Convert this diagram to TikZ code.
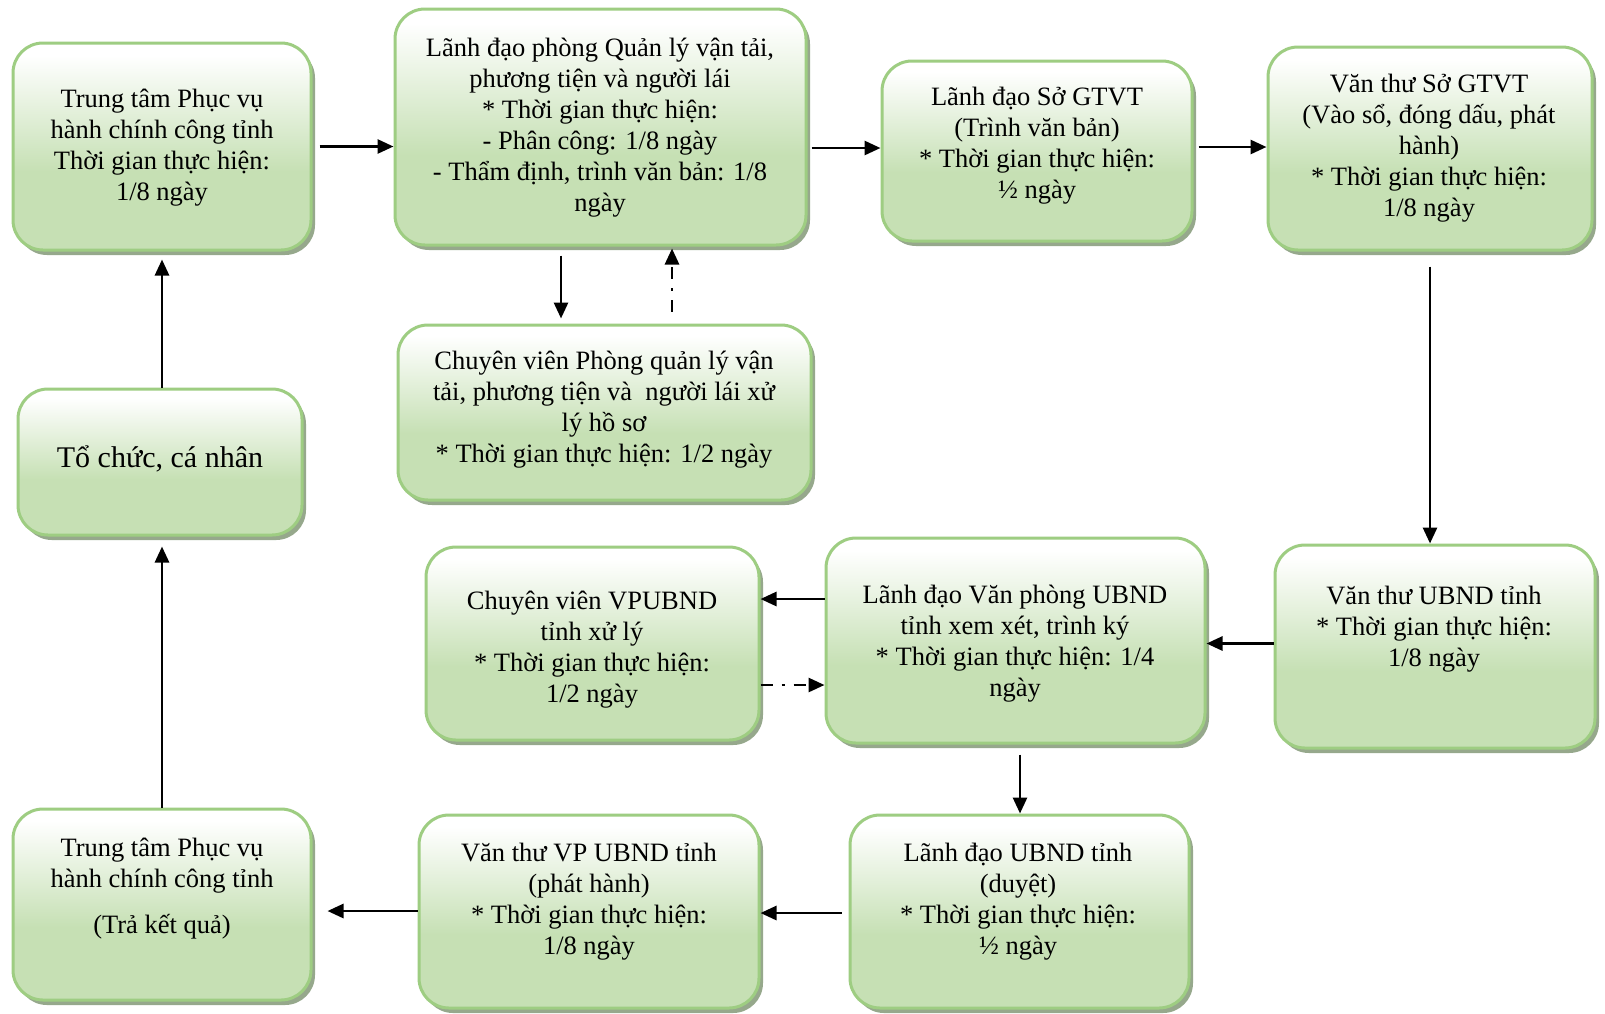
\documentclass[tikz,border=0pt]{standalone}
\usepackage{fontspec}
\setmainfont{Liberation Serif}
\usetikzlibrary{arrows.meta,shadows}
\definecolor{bordg}{RGB}{158,205,130}
\definecolor{fillg}{RGB}{198,224,180}
\definecolor{shadg}{RGB}{150,168,140}
\pgfdeclareverticalshading{boxshade}{100bp}{color(0bp)=(fillg); color(25bp)=(fillg); color(44bp)=(fillg); color(72bp)=(white); color(100bp)=(white)}
\begin{document}
\begin{tikzpicture}[x=1pt,y=-1pt,
  box/.style={draw=bordg, line width=3pt, rounded corners=30pt, shade, shading=boxshade, inner sep=0pt,
    drop shadow={shadow xshift=4pt, shadow yshift=-5pt, fill=shadg, opacity=1}},
  txt/.style={align=center, font=\fontsize{26.5pt}{31pt}\selectfont, inner sep=0pt},
  arr/.style={line width=2.8pt, -{Triangle[length=16pt,width=14pt]}},
  dd/.style={dash pattern=on 12pt off 9pt on 3pt off 9pt}]
\useasboundingbox[fill=white] (0,0) rectangle (1605,1013);

% boxes
\node[box, minimum width=298pt, minimum height=207pt] (t1) at (162,146.5) {};
\node[box, minimum width=411pt, minimum height=236pt] (t2) at (600.5,127) {};
\node[box, minimum width=310pt, minimum height=180pt] (t3) at (1037,151) {};
\node[box, minimum width=324pt, minimum height=203pt] (t4) at (1430,148.5) {};
\node[box, minimum width=413pt, minimum height=175pt] (t5) at (604.5,412.5) {};
\node[box, minimum width=284pt, minimum height=146pt] (t6) at (160,462) {};
\node[box, minimum width=333pt, minimum height=193pt] (t7) at (592.5,643.5) {};
\node[box, minimum width=379pt, minimum height=205pt] (t8) at (1015.5,640.5) {};
\node[box, minimum width=320pt, minimum height=203pt] (t9) at (1435,646.5) {};
\node[box, minimum width=298pt, minimum height=191pt] (t10) at (162,904.5) {};
\node[box, minimum width=340pt, minimum height=193pt] (t11) at (589,911.5) {};
\node[box, minimum width=339pt, minimum height=193pt] (t12) at (1019.5,911.5) {};

% texts
\node[txt] (x1) at (162,147.5) {Trung tâm Phục vụ\\hành chính công tỉnh\\Thời gian thực hiện:\\1/8 ngày};
\node[txt] (x2) at (600,127.5) {Lãnh đạo phòng Quản lý vận tải,\\phương tiện và người lái\\* Thời gian thực hiện:\\- Phân công: 1/8 ngày\\- Thẩm định, trình văn bản: 1/8\\ngày};
\node[txt] (x3) at (1037,145.5) {Lãnh đạo Sở GTVT\\(Trình văn bản)\\* Thời gian thực hiện:\\½ ngày};
\node[txt] (x4) at (1429,148.5) {Văn thư Sở GTVT\\(Vào sổ, đóng dấu, phát\\hành)\\* Thời gian thực hiện:\\1/8 ngày};
\node[txt] (x5) at (604,409.5) {Chuyên viên Phòng quản lý vận\\tải, phương tiện và~ người lái xử\\lý hồ sơ\\* Thời gian thực hiện: 1/2 ngày};
\node[txt, font=\fontsize{30pt}{34pt}\selectfont] (x6) at (160,459) {Tổ chức, cá nhân};
\node[txt] (x7) at (592,649.5) {Chuyên viên VPUBND\\tỉnh xử lý\\* Thời gian thực hiện:\\1/2 ngày};
\node[txt] (x8) at (1015,643.5) {Lãnh đạo Văn phòng UBND\\tỉnh xem xét, trình ký\\* Thời gian thực hiện: 1/4\\ngày};
\node[txt] (x9) at (1434,629.5) {Văn thư UBND tỉnh\\* Thời gian thực hiện:\\1/8 ngày};
\node[txt] (x10) at (162,888.5) {Trung tâm Phục vụ\\hành chính công tỉnh\\[15pt](Trả kết quả)};
\node[txt] (x11) at (589,901.5) {Văn thư VP UBND tỉnh\\(phát hành)\\* Thời gian thực hiện:\\1/8 ngày};
\node[txt] (x12) at (1018,901.5) {Lãnh đạo UBND tỉnh\\(duyệt)\\* Thời gian thực hiện:\\½ ngày};

% connectors
\coordinate (p1) at ([xshift=7pt]t1.east);
\draw[arr] (p1) -- (p1 -| t2.west);
\coordinate (p2) at ([xshift=4pt,yshift=3pt]t2.east |- t3.west);
\draw[arr] (p2) -- (p2 -| t3.west);
\coordinate (p3) at ([xshift=5pt,yshift=4pt]t3.east);
\draw[arr] (p3) -- (p3 -| t4.west);
\coordinate (p4) at ([yshift=-15pt]t4.south);
\draw[arr] (p4) -- (p4 |- t9.north);
\coordinate (p5) at ([yshift=3pt]t9.west);
\draw[arr] (p5) -- (p5 -| t8.east);
\coordinate (p6) at ([yshift=41.5pt]t8.west);
\draw[arr] (p6) -- (p6 -| t7.east);
\coordinate (p7) at ([yshift=-41.5pt]t7.east);
\draw[arr,dd] (p7) -- (p7 -| t8.west);
\coordinate (p8) at ([xshift=4.5pt,yshift=-10pt]t8.south);
\draw[arr] (p8) -- (p8 |- t12.north);
\coordinate (p9) at ([xshift=-7pt,yshift=-1.5pt]t12.west);
\draw[arr] (p9) -- (p9 -| t11.east);
\coordinate (p10) at ([yshift=0.5pt]t11.west);
\coordinate (q10) at ([xshift=15pt]t10.east);
\draw[arr] (p10) -- (p10 -| q10);
\coordinate (q11) at ([yshift=-10pt]t6.south);
\draw[arr] (t10.north) -- (t10.north |- q11);
\coordinate (q12) at ([yshift=-8pt]t1.south);
\draw[arr] (t1.south |- t6.north) -- (q12);
\coordinate (p13) at ([xshift=-39.5pt,yshift=-9pt]t2.south);
\coordinate (q13) at ([yshift=5pt]t5.north);
\draw[arr] (p13) -- (p13 |- q13);
\coordinate (p14) at ([xshift=67.5pt,yshift=12pt]t5.north);
\coordinate (q14) at ([yshift=-2pt]t2.south);
\draw[arr,dd] (p14) -- (p14 |- q14);
\end{tikzpicture}
\end{document}
